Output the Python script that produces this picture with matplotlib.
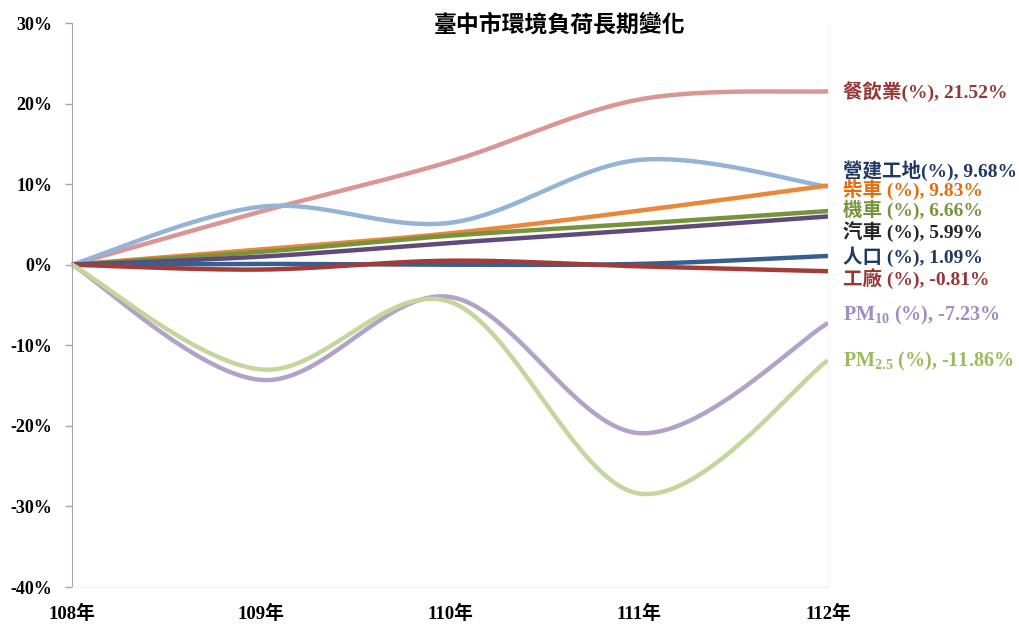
import numpy as np
import matplotlib
matplotlib.use('Agg')
import matplotlib.pyplot as plt
from matplotlib.ticker import FuncFormatter

plt.rcParams['font.family'] = ['Liberation Serif', 'Noto Sans CJK TC']
plt.rcParams['font.weight'] = 'bold'
plt.rcParams['mathtext.fontset'] = 'custom'
plt.rcParams['mathtext.rm'] = 'Liberation Serif:bold'
plt.rcParams['mathtext.bf'] = 'Liberation Serif:bold'
plt.rcParams['mathtext.it'] = 'Liberation Serif:bold'

years = ['108年', '109年', '110年', '111年', '112年']

restaurant = [0, 6.6, 12.8, 20.5, 21.52]
construction = [0, 7.2, 5.2, 13.0, 9.68]
diesel = [0, 1.9, 3.9, 6.7, 9.83]
scooter = [0, 1.6, 3.6, 5.1, 6.66]
car = [0, 1.0, 2.7, 4.3, 5.99]
population = [0, 0.1, 0.0, 0.1, 1.09]
factory = [0, -0.6, 0.5, -0.2, -0.81]
pm10 = [0, -14.3, -4.0, -20.9, -7.23]
pm25 = [0, -13.0, -4.6, -28.4, -11.86]

# (values, line colour, label text, label colour, label y)
series = [
    (restaurant, '#D99694', '餐飲業(%), 21.52%', '#953735', 21.5),
    (construction, '#95B3D7', '營建工地(%), 9.68%', '#1F3864', 11.7),
    (diesel, '#E9873A', '柴車 (%), 9.83%', '#E46C0A', 9.3),
    (scooter, '#77933C', '機車 (%), 6.66%', '#77933C', 6.8),
    (car, '#604A7B', '汽車 (%), 5.99%', '#262626', 4.0),
    (population, '#376092', '人口 (%), 1.09%', '#1F3864', 1.0),
    (factory, '#A33B38', '工廠 (%), -0.81%', '#953735', -1.7),
    (pm10, '#B3A2C7', r'PM$_{\mathbf{10}}$ (%), -7.23%', '#9F8DC2', -6.3),
    (pm25, '#C3D69B', r'PM$_{\mathbf{2.5}}$ (%), -11.86%', '#9BBB59', -12.0),
]


def smooth(vals, n=40):
    # Bezier smoothing through each point (control points at 1/6 of neighbour span)
    x = np.arange(len(vals), dtype=float)
    y = np.asarray(vals, dtype=float)
    px = np.concatenate([[x[0]], x, [x[-1]]])
    py = np.concatenate([[y[0]], y, [y[-1]]])
    xs, ys = [], []
    t = np.linspace(0, 1, n)
    for i in range(len(vals) - 1):
        p0 = np.array([px[i + 1], py[i + 1]])
        p3 = np.array([px[i + 2], py[i + 2]])
        c1 = p0 + (np.array([px[i + 2], py[i + 2]]) - np.array([px[i], py[i]])) / 6
        c2 = p3 - (np.array([px[i + 3], py[i + 3]]) - np.array([px[i + 1], py[i + 1]])) / 6
        b = ((1 - t) ** 3)[:, None] * p0 + (3 * (1 - t) ** 2 * t)[:, None] * c1 \
            + (3 * (1 - t) * t ** 2)[:, None] * c2 + (t ** 3)[:, None] * p3
        xs.append(b[:, 0])
        ys.append(b[:, 1])
    return np.concatenate(xs), np.concatenate(ys)


fig = plt.figure(figsize=(10.2, 6.24), dpi=100)
ax = fig.add_axes([72 / 1020, 1 - 587 / 624, (828 - 72) / 1020, (587 - 23) / 624])

for vals, color, text, tcolor, ly in series:
    sx, sy = smooth(vals)
    ax.plot(sx, sy, color=color, lw=3.2, solid_capstyle='butt', clip_on=False)
    fs = 14.5 if text.startswith('PM') else 14
    ax.text(4.08, ly, text, color=tcolor, fontsize=fs, fontweight='bold',
            va='center', ha='left')

ax.set_xlim(0, 4)
ax.set_ylim(-40, 30)
ax.set_yticks(np.arange(-40, 31, 10))
ax.yaxis.set_major_formatter(FuncFormatter(lambda v, p: f'{v:.0f}%'))
ax.set_xticks(range(len(years)))
ax.set_xticklabels(years)
ax.tick_params(axis='x', length=0, pad=13, labelsize=13.5)
ax.tick_params(axis='y', length=5, width=1, color='#A6A6A6', pad=9, labelsize=13)

ax.spines['top'].set_visible(False)
ax.spines['left'].set_color('#A6A6A6')
ax.spines['bottom'].set_color('#F0F0F0')
ax.spines['right'].set_color('#F5F5F5')

fig.text(560 / 1020, 1 - 25 / 624, '臺中市環境負荷長期變化', fontsize=16.5,
         fontweight='bold', ha='center', va='center')

fig.savefig('out.png', dpi=100)
